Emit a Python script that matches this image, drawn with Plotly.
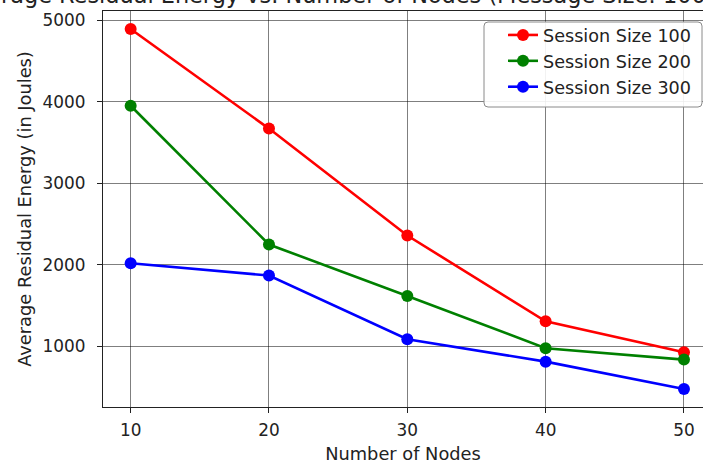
import plotly.graph_objects as go

nodes = [10, 20, 30, 40, 50]
session_100 = [4890, 3670, 2360, 1310, 930]
session_200 = [3950, 2250, 1620, 980, 840]
session_300 = [2020, 1870, 1090, 815, 480]
series_names = ["Session Size 100", "Session Size 200", "Session Size 300"]
series_colors = ["#ff0000", "#008000", "#0000ff"]
y_ticks = [1000, 2000, 3000, 4000, 5000]
x_ticks = [10, 20, 30, 40, 50]
title_text = "Average Residual Energy vs. Number of Nodes (Message Size: 1000 bytes)"

FONT = "DejaVu Sans"
fs_tick = 16.9
fs_label = 17.8
fs_leg = 17.6
fs_title = 22.4

fig = go.Figure()
for name, vals, col in zip(series_names, [session_100, session_200, session_300], series_colors):
    fig.add_trace(go.Scatter(
        x=nodes, y=vals, name=name, mode="lines+markers",
        line=dict(color=col, width=2.6),
        marker=dict(color=col, size=12),
    ))

W, H = 703, 464
L, T, B = 103, 11, 57
pw = W - L
ph = H - T - B
px_per_unit = (684 - 130.7) / 40.0
xmax = 8 + pw / px_per_unit


def px_x(p):
    return (p - L) / pw


def px_y(p):
    return (H - B - p) / ph


# legend frame (rounded rectangle) in pixel-derived paper coordinates
lx0, lx1, ly0, ly1, r = 484, 702, 22, 107, 4
fx0, fx1 = px_x(lx0), px_x(lx1)
fy0, fy1 = px_y(ly1), px_y(ly0)
rx, ry = r / pw, r / ph
frame_path = (
    f"M {fx0 + rx},{fy1} L {fx1 - rx},{fy1} Q {fx1},{fy1} {fx1},{fy1 - ry} "
    f"L {fx1},{fy0 + ry} Q {fx1},{fy0} {fx1 - rx},{fy0} "
    f"L {fx0 + rx},{fy0} Q {fx0},{fy0} {fx0},{fy0 + ry} "
    f"L {fx0},{fy1 - ry} Q {fx0},{fy1} {fx0 + rx},{fy1} Z"
)

fig.update_layout(
    width=W, height=H,
    margin=dict(l=L, r=0, t=T, b=B, pad=0, autoexpand=False),
    paper_bgcolor="white", plot_bgcolor="white",
    font=dict(family=FONT, size=fs_tick, color="#222"),
    showlegend=True,
    legend=dict(
        x=px_x(503), y=px_y(17), xanchor="left", yanchor="top",
        bgcolor="rgba(0,0,0,0)", borderwidth=0,
        font=dict(family=FONT, size=fs_leg, color="#222"),
        tracegroupgap=0,
    ),
    shapes=[dict(
        type="path", xref="paper", yref="paper", path=frame_path,
        fillcolor="rgba(255,255,255,0.9)", line=dict(color="#8a8a8a", width=1),
        layer="above",
    )],
    xaxis=dict(
        range=[8, xmax], tickvals=x_ticks, ticktext=[str(v) for v in x_ticks],
        showgrid=True, gridcolor="rgba(0,0,0,0.5)", gridwidth=1,
        showline=True, linecolor="#222", linewidth=1.2, mirror=True,
        ticks="outside", ticklen=5, tickcolor="#222",
        zeroline=False, automargin=False, ticklabelstandoff=3,
        tickfont=dict(family=FONT, size=fs_tick, color="#222"),
        title=dict(text="Number of Nodes", font=dict(family=FONT, size=fs_label)),
    ),
    yaxis=dict(
        range=[259.5, 5110.5], tickvals=y_ticks, ticktext=[str(v) for v in y_ticks],
        showgrid=True, gridcolor="rgba(0,0,0,0.5)", gridwidth=1,
        showline=True, linecolor="#222", linewidth=1.2, mirror=False,
        ticks="outside", ticklen=5, tickcolor="#222",
        zeroline=False, automargin=False, ticklabelstandoff=8,
        tickfont=dict(family=FONT, size=fs_tick, color="#222"),
        title=dict(text="Average Residual Energy (in Joules)", font=dict(family=FONT, size=fs_label), standoff=6),
    ),
)

fig.add_annotation(
    text=title_text, xref="paper", yref="paper",
    x=px_x(-42.5), xanchor="left",
    y=1 + (T + 5.0) / ph, yanchor="middle",
    showarrow=False, font=dict(family=FONT, size=fs_title, color="#222"),
)

fig.write_html(
    "out.html",
    config={"displayModeBar": False},
    post_script="document.body.style.margin='0';document.body.style.overflow='hidden';",
)
